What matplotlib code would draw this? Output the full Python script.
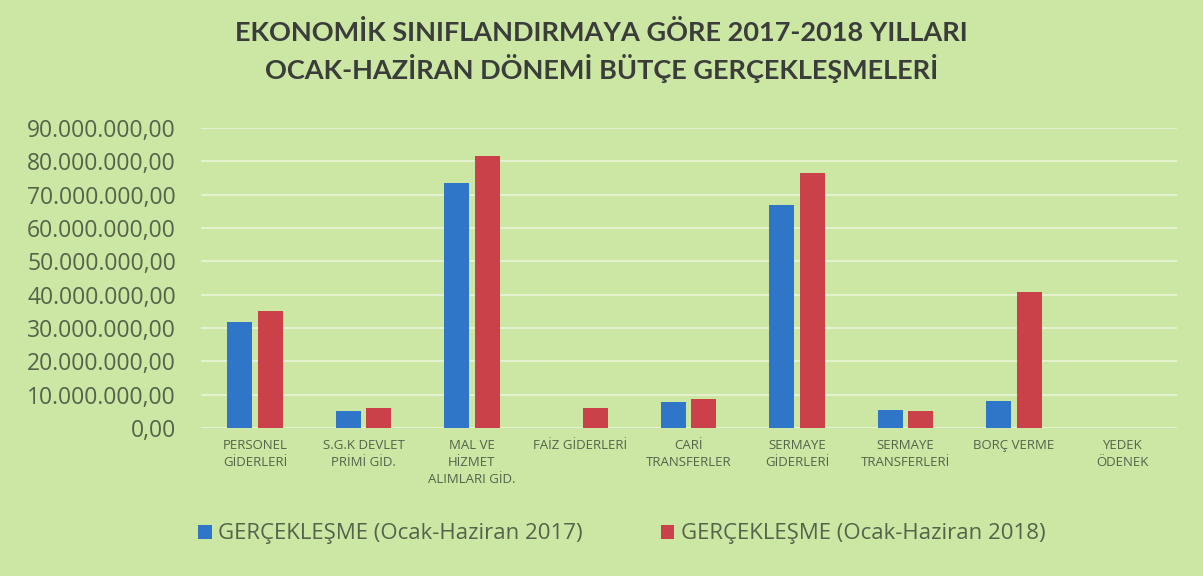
import matplotlib.pyplot as plt
import numpy as np
from matplotlib.ticker import FuncFormatter

# Ocak-Haziran realizations (TL)
categories = [
    "PERSONEL\nGİDERLERİ",
    "S.G.K DEVLET\nPRİMİ GİD.",
    "MAL VE\nHİZMET\nALIMLARI GİD.",
    "FAİZ GİDERLERİ",
    "CARİ\nTRANSFERLER",
    "SERMAYE\nGİDERLERİ",
    "SERMAYE\nTRANSFERLERİ",
    "BORÇ VERME",
    "YEDEK\nÖDENEK",
]
values_2017 = [31_700_000, 5_200_000, 73_600_000, 0, 7_700_000, 67_000_000, 5_400_000, 8_200_000, 0]
values_2018 = [35_100_000, 5_900_000, 81_500_000, 5_900_000, 8_700_000, 76_500_000, 5_000_000, 40_700_000, 0]
series_labels = ["GERÇEKLEŞME (Ocak-Haziran 2017)", "GERÇEKLEŞME (Ocak-Haziran 2018)"]
title = "EKONOMİK SINIFLANDIRMAYA GÖRE 2017-2018 YILLARI\nOCAK-HAZİRAN DÖNEMİ BÜTÇE GERÇEKLEŞMELERİ"

BG = "#cce6a4"
BLUE = "#2f76c9"
RED = "#cb4149"
TEXT = "#55634a"

plt.rcParams["font.family"] = ["Open Sans", "DejaVu Sans"]

fig = plt.figure(figsize=(12.03, 5.76), dpi=100, facecolor=BG)
ax = fig.add_axes([0.167, 0.257, 0.811, 0.521])
ax.set_facecolor(BG)

x = np.arange(len(categories))
width = 0.23
gap = 0.025
ax.bar(x - width / 2 - gap, values_2017, width, color=BLUE, label=series_labels[0], zorder=3)
ax.bar(x + width / 2 + gap, values_2018, width, color=RED, label=series_labels[1], zorder=3)

ax.set_xlim(-0.5, len(categories) - 0.5)
ax.set_ylim(0, 90_000_000)
ax.set_yticks(np.arange(0, 90_000_001, 10_000_000))


def tr_fmt(v, _pos):
    s = f"{v:,.2f}"
    return s.replace(",", "_").replace(".", ",").replace("_", ".")


ax.yaxis.set_major_formatter(FuncFormatter(tr_fmt))
ax.grid(axis="y", color="#e4f2d0", linewidth=1.4, zorder=0)
for spine in ax.spines.values():
    spine.set_visible(False)
ax.axhline(0, color="#e4f2d0", linewidth=1.4, zorder=1)

ax.tick_params(axis="y", length=0, labelsize=16.5, labelcolor=TEXT, pad=18)
ax.tick_params(axis="x", length=0, labelsize=9.5, labelcolor=TEXT, pad=8)
ax.set_xticks(x)
ax.set_xticklabels(categories, linespacing=1.4, va="top")

fig.suptitle(title, x=0.5, y=0.965, fontsize=19.5, fontweight="bold", color="#3a3d3a",
             linespacing=1.35, family=["Lato", "DejaVu Sans"])

leg = fig.legend(
    loc="lower center",
    bbox_to_anchor=(0.517, 0.02),
    ncol=2,
    frameon=False,
    fontsize=16,
    handlelength=0.6,
    handleheight=0.6,
    handletextpad=0.3,
    columnspacing=3.5,
)
for t in leg.get_texts():
    t.set_color(TEXT)

fig.savefig("out.png", dpi=100, facecolor=BG)
